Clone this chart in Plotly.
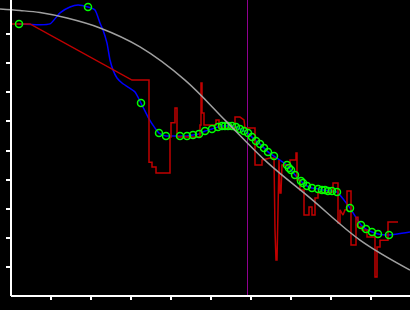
import plotly.graph_objects as go

# Gray reference curve
gray_x = [-0.275, 0.225, 0.725, 1.4, 2.225, 3.225, 4.35, 5.375, 6.4, 7.475, 8.725, 9.975]
gray_y = [9.86, 9.81, 9.74, 9.55, 9.21, 8.56, 7.42, 6.01, 4.60, 3.37, 1.92, 0.89]

# Green sample points
pts_x = [0.2, 1.925, 3.25, 3.7, 3.875, 4.225, 4.4, 4.55, 4.7, 4.85, 5.025, 5.175, 5.275,
         5.35, 5.425, 5.525, 5.625, 5.725, 5.825, 5.925, 6.025, 6.125, 6.225, 6.325,
         6.425, 6.575, 6.9, 6.95, 7.0, 7.1, 7.25, 7.3, 7.4, 7.525, 7.675, 7.775, 7.85,
         7.925, 8.025, 8.15, 8.475, 8.75, 8.875, 9.025, 9.175, 9.45]
pts_y = [9.35, 9.93, 6.63, 5.60, 5.50, 5.50, 5.50, 5.53, 5.57, 5.67, 5.74, 5.81, 5.84,
         5.84, 5.84, 5.84, 5.81, 5.74, 5.67, 5.60, 5.46, 5.33, 5.22, 5.09,
         4.95, 4.81, 4.50, 4.40, 4.33, 4.16, 3.95, 3.88, 3.78, 3.71, 3.68, 3.64, 3.64,
         3.61, 3.61, 3.57, 3.02, 2.44, 2.30, 2.20, 2.13, 2.10]

# Blue smoothed curve
blue_head_x = [0.2, 0.975, 1.225, 1.475, 1.675, 1.925, 2.1, 2.225, 2.3, 2.4, 2.475, 2.55,
               2.65, 2.775, 2.925, 3.1, 3.25, 3.425, 3.6, 3.7]
blue_head_y = [9.35, 9.35, 9.73, 9.93, 10.0, 9.93, 9.83, 9.38, 9.14, 8.69, 8.11, 7.77,
               7.49, 7.32, 7.18, 7.01, 6.63, 6.15, 5.77, 5.60]
blue_x = blue_head_x + pts_x[4:] + [9.975]
blue_y = blue_head_y + pts_y[4:] + [2.20]

# Red raw step signal
red_x = [0.0, 0.475, 3.025, 3.45, 3.45, 3.525, 3.525, 3.625, 3.625, 3.975, 3.975, 4.0, 4.0,
         4.1, 4.1, 4.15, 4.15, 4.725, 4.725, 4.75, 4.75, 4.775, 4.775, 4.825, 4.825, 5.125,
         5.125, 5.2, 5.2, 5.6, 5.6, 5.725, 5.825, 5.85, 6.1, 6.1, 6.275, 6.275, 6.475, 6.575,
         6.6, 6.625, 6.65, 6.675, 6.7, 6.725, 6.75, 6.775, 6.975, 6.975, 7.125, 7.125, 7.15,
         7.15, 7.225, 7.225, 7.325, 7.325, 7.45, 7.45, 7.525, 7.525, 7.6, 7.6, 7.675, 7.675,
         8.05, 8.05, 8.175, 8.175, 8.225, 8.225, 8.3, 8.35, 8.4, 8.4, 8.5, 8.5, 8.625, 8.625,
         8.675, 8.675, 8.775, 8.775, 8.9, 8.9, 9.1, 9.1, 9.15, 9.15, 9.225, 9.225, 9.425,
         9.425, 9.675]
red_y = [9.35, 9.35, 7.42, 7.42, 4.60, 4.60, 4.43, 4.43, 4.23, 4.23, 5.46, 5.46, 5.95,
         5.95, 6.46, 6.46, 5.46, 5.46, 5.88, 5.88, 7.32, 7.32, 6.29, 6.29, 5.88, 5.88,
         6.05, 6.05, 5.77, 5.77, 6.15, 6.15, 6.05, 5.77, 5.77, 4.50, 4.50, 4.67, 4.74, 4.74,
         2.27, 1.24, 1.24, 3.64, 4.67, 3.54, 3.54, 4.50, 4.50, 4.67, 4.67, 4.91, 4.91,
         3.99, 3.99, 3.64, 3.64, 2.78, 2.78, 3.06, 3.06, 2.78, 2.78, 3.37, 3.37, 3.54,
         3.57, 3.88, 3.88, 2.51, 2.51, 2.96, 2.78, 2.96, 2.96, 3.61, 3.61, 1.75, 1.75, 2.71,
         2.71, 2.37, 2.37, 2.27, 2.27, 2.03, 2.03, 0.65, 0.65, 1.68, 1.68, 1.92, 1.92,
         2.54, 2.54]

marker_x = 5.9125
x_ticks = [1, 2, 3, 4, 5, 6, 7, 8, 9]
y_ticks = [1, 2, 3, 4, 5, 6, 7, 8, 9]

fig = go.Figure()
fig.add_trace(go.Scatter(x=blue_x, y=blue_y, mode="lines",
                         line=dict(color="#0000ff", width=1.5, shape="spline", smoothing=0.5)))
fig.add_trace(go.Scatter(x=red_x, y=red_y, mode="lines",
                         line=dict(color="#c00000", width=1.5)))
fig.add_trace(go.Scatter(x=pts_x, y=pts_y, mode="markers",
                         marker=dict(symbol="circle-open", size=7, color="#00ff00",
                                     line=dict(width=1.5, color="#00ff00"))))
fig.add_trace(go.Scatter(x=gray_x, y=gray_y, mode="lines",
                         line=dict(color="#a0a0a0", width=1.5, shape="spline")))

fig.add_shape(type="line", xref="x", yref="paper", x0=marker_x, x1=marker_x, y0=0, y1=1,
              line=dict(color="#900090", width=1), layer="below")
fig.add_shape(type="line", xref="x", yref="paper", x0=0, x1=9.975, y0=0, y1=0,
              line=dict(color="white", width=2))

fig.update_layout(
    width=410, height=310,
    margin=dict(l=0, r=0, t=0, b=14),
    paper_bgcolor="black", plot_bgcolor="black",
    showlegend=False,
    xaxis=dict(range=[-0.275, 9.975], showgrid=False, zeroline=False, showline=False,
               tickvals=x_ticks, ticks="outside", ticklen=3, tickwidth=2, tickcolor="white",
               showticklabels=False),
    yaxis=dict(range=[0, 296 / 29.1], showgrid=False, zeroline=False, showline=True,
               linecolor="white", linewidth=2, anchor="free", position=11 / 410,
               tickvals=y_ticks, ticks="outside", ticklen=4, tickwidth=2, tickcolor="white",
               showticklabels=False),
)

fig.write_html("out.html")
